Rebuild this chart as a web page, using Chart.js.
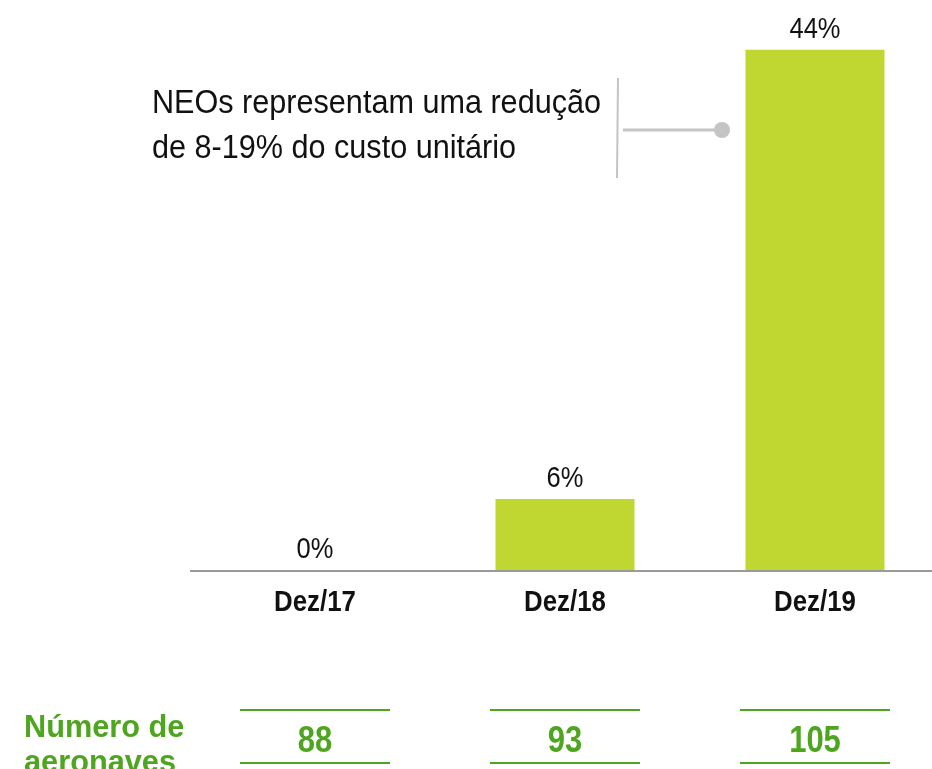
<!DOCTYPE html>
<html lang="pt">
<head>
  <meta charset="UTF-8" />
  <title>NEOs</title>
  <script src="https://cdn.jsdelivr.net/npm/chart.js"></script>
  <style>
    html, body { margin: 0; padding: 0; background: #fff; overflow: hidden; }
    #wrap { position: relative; width: 932px; height: 769px; overflow: hidden; }
    canvas { position: absolute; left: 0; top: 0; }
  </style>
</head>
<body>
  <div id="wrap"><canvas id="chart" width="940" height="769"></canvas></div>

  <script>
    const categories = ['Dez/17', 'Dez/18', 'Dez/19'];
    const shareNEO = [0, 6, 44];
    const aircraft = [88, 93, 105];
    const noteLines = ['NEOs representam uma redução', 'de 8-19% do custo unitário'];
    const rowLabel = ['Número de', 'aeronaves'];

    const FONT = '"Liberation Sans", Arial, sans-serif';
    const GREEN = '#4ea51f';

    // no narrow font installed, so squeeze the regular one
    function narrowText(c, text, x, y, font, sx) {
      c.save();
      c.font = font;
      c.translate(x, y);
      c.scale(sx, 1);
      c.fillText(text, 0, 0);
      c.restore();
    }

    const overlay = {
      id: 'overlay',
      afterDatasetsDraw(chart) {
        const c = chart.ctx;
        const area = chart.chartArea;
        const x = chart.scales.x;
        const bars = chart.getDatasetMeta(0).data;
        c.save();

        // baseline
        c.strokeStyle = '#9a9a9a';
        c.lineWidth = 2;
        c.beginPath();
        c.moveTo(area.left, area.bottom + 1);
        c.lineTo(area.right, area.bottom + 1);
        c.stroke();

        c.fillStyle = '#111';
        c.textAlign = 'center';
        c.textBaseline = 'alphabetic';

        // value labels
        bars.forEach((b, i) => {
          narrowText(c, shareNEO[i] + '%', b.x, b.y - 12, '30px ' + FONT, 0.85);
        });

        // category labels
        categories.forEach((cat, i) => {
          narrowText(c, cat, x.getPixelForValue(i), area.bottom + 41, 'bold 29px ' + FONT, 0.89);
        });

        // annotation
        c.textAlign = 'left';
        narrowText(c, noteLines[0], 152, 113, '34px ' + FONT, 0.9);
        narrowText(c, noteLines[1], 152, 158, '34px ' + FONT, 0.9);
        c.strokeStyle = '#c4c4c4';
        c.lineWidth = 2;
        c.beginPath();
        c.moveTo(618, 78);
        c.lineTo(617, 178);
        c.stroke();
        c.lineWidth = 3;
        c.beginPath();
        c.moveTo(623, 130);
        c.lineTo(720, 130);
        c.stroke();
        c.fillStyle = '#c4c4c4';
        c.beginPath();
        c.arc(722, 130, 8, 0, Math.PI * 2);
        c.fill();

        // aircraft row
        c.fillStyle = GREEN;
        c.strokeStyle = GREEN;
        c.textAlign = 'left';
        narrowText(c, rowLabel[0], 24, 737, 'bold 32px ' + FONT, 0.96);
        narrowText(c, rowLabel[1], 24, 772, 'bold 32px ' + FONT, 0.96);
        c.textAlign = 'center';
        c.lineWidth = 2;
        aircraft.forEach((n, i) => {
          const cx = x.getPixelForValue(i);
          c.beginPath();
          c.moveTo(cx - 75, 710);
          c.lineTo(cx + 75, 710);
          c.moveTo(cx - 75, 763);
          c.lineTo(cx + 75, 763);
          c.stroke();
          narrowText(c, String(n), cx, 752, 'bold 36px ' + FONT, 0.86);
        });

        c.restore();
      }
    };

    new Chart(document.getElementById('chart'), {
      type: 'bar',
      data: {
        labels: categories,
        datasets: [{
          data: shareNEO,
          backgroundColor: '#c0d731',
          borderWidth: 0,
          categoryPercentage: 1,
          barPercentage: 0.556
        }]
      },
      options: {
        responsive: false,
        animation: false,
        layout: { padding: { left: 190, right: 0, top: 0, bottom: 199 } },
        plugins: { legend: { display: false }, tooltip: { enabled: false } },
        scales: {
          x: { display: false, offset: true },
          y: { display: false, min: 0, max: 48.2 }
        }
      },
      plugins: [overlay]
    });
  </script>
</body>
</html>
